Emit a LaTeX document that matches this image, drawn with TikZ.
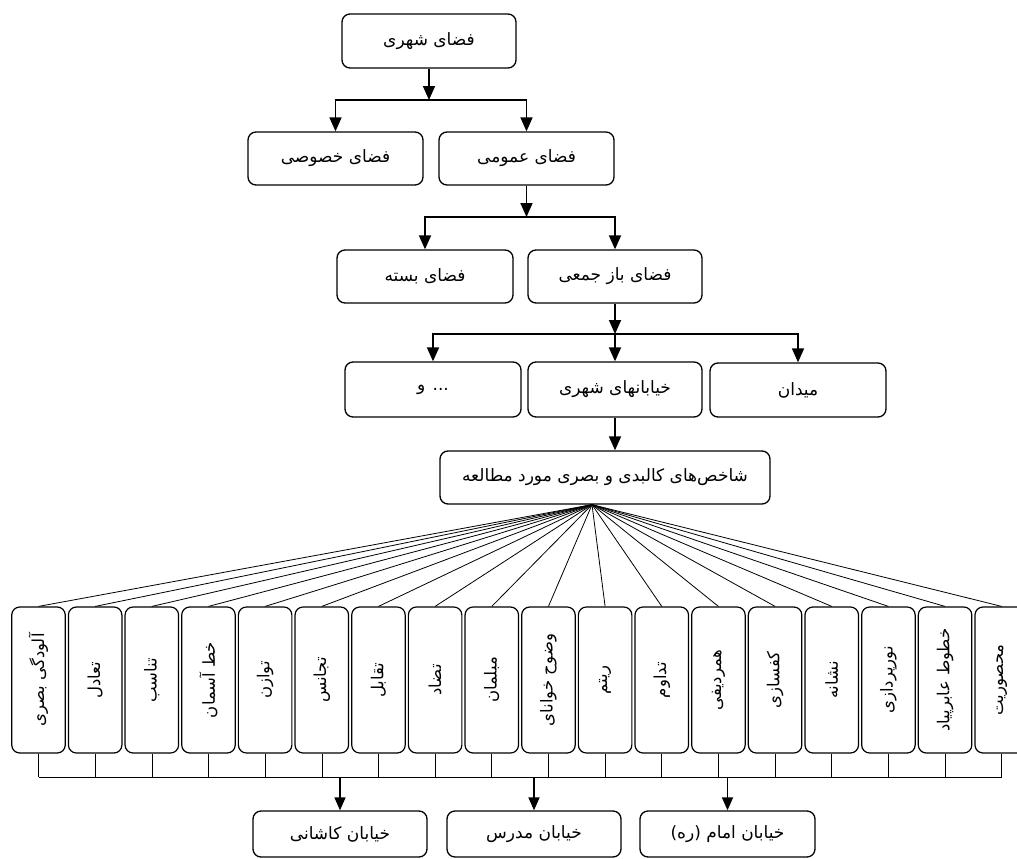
\documentclass[tikz,border=0pt]{standalone}
\usepackage{fontspec}
\usetikzlibrary{arrows.meta,calc}
\TeXXeTstate=1
\newfontfamily\fa[Script=Arabic]{DejaVu Sans}
\newcommand\fatxt[1]{{\fa\beginR #1\endR}}
\begin{document}
\begin{tikzpicture}[x=1pt,y=-1pt,
  box/.style={draw, line width=1.3pt, rounded corners=8pt, inner sep=0pt, font=\fontsize{17}{19}\selectfont},
  vbox/.style={draw, line width=1.2pt, rounded corners=8pt, inner sep=0pt, minimum width=53.5pt, minimum height=146pt, font=\fontsize{16.5}{18}\selectfont},
  arr/.style={line width=1.7pt, -{Triangle[width=12pt,length=14pt]}},
  arrb/.style={line width=1.5pt, -{Triangle[width=11pt,length=13pt]}},
  fanline/.style={line width=0.8pt},
  tickline/.style={line width=0.6pt},
  baseline/.style={line width=1pt},
]
\useasboundingbox (0,0) rectangle (1017,859);
% top levels
\node[box, minimum width=174pt, minimum height=54pt] (shahri) at (429,41) {\fatxt{فضای شهری}};
\node[box, minimum width=175pt, minimum height=53pt] (khosusi) at (335.5,158.5) {\fatxt{فضای خصوصی}};
\node[box, minimum width=175pt, minimum height=53pt] (omumi) at (526.5,158.5) {\fatxt{فضای عمومی}};
\node[box, minimum width=176pt, minimum height=53pt] (baste) at (425,276.5) {\fatxt{فضای بسته}};
\node[box, minimum width=174pt, minimum height=53pt] (baz) at (615,276.5) {\fatxt{فضای باز جمعی}};
\node[box, minimum width=176pt, minimum height=55pt] (va) at (433,389.5) {\fatxt{... و}};
\node[box, minimum width=174pt, minimum height=55pt] (streets) at (615,389.5) {\fatxt{خیابانهای شهری}};
\node[box, minimum width=176pt, minimum height=54pt] (meydan) at (798,390) {\fatxt{میدان}};
\node[box, minimum width=330pt, minimum height=53pt] (shakhes) at (605,477.5) {\fatxt{شاخص‌های کالبدی و بصری مورد مطالعه}};
% splits
\coordinate (j1) at (shahri.south |- 0,100);
\draw[arr] (shahri.south) -- (j1);
\draw[arr] (j1) -| (khosusi.north);
\draw[arr] (j1) -| (omumi.north);
\coordinate (j2) at (omumi.south |- 0,217);
\draw[arr] (omumi.south) -- (j2);
\draw[arr] (j2) -| (baste.north);
\draw[arr] (j2) -| (baz.north);
\coordinate (j3) at (baz.south |- 0,334);
\draw[arr] (baz.south) -- (j3);
\draw[arr] (j3) -| (va.north);
\draw[arr] (j3) -| (streets.north);
\draw[arr] (j3) -| (meydan.north);
\draw[arr] (streets.south) -- (streets.south |- shakhes.north);
% fan and vertical boxes
\coordinate (fan) at ($(shakhes.south)+(-13,0)$);
\foreach \t [count=\i] in {آلودگی بصری,تعادل,تناسب,خط آسمان,توازن,تجانس,تقابل,تضاد,مبلمان,وضوح خوانای,ریتم,تداوم,همردیفی,کفسازی,نشانه,نورپردازی,خطوط عابرپیاد,محصوریت}{
  \node[vbox] (v\i) at ({38.5+56.66*(\i-1)},680) {\rotatebox{90}{\fatxt{\t}}};
  \draw[fanline] (fan) -- (v\i.north);
  \draw[tickline] (v\i.south) -- (v\i.south |- 0,777);
}
\draw[baseline] (v1.south |- 0,777) -- (v18.south |- 0,777);
% bottom boxes
\node[box, minimum width=174pt, minimum height=46pt] (kashani) at (340,834) {\fatxt{خیابان کاشانی}};
\node[box, minimum width=174pt, minimum height=46pt] (modarres) at (534,834) {\fatxt{خیابان مدرس}};
\node[box, minimum width=175pt, minimum height=46pt] (emam) at (727.5,834) {\fatxt{خیابان امام (ره)}};
\draw[arrb] (kashani.north |- 0,777) -- (kashani.north);
\draw[arrb] (modarres.north |- 0,777) -- (modarres.north);
\draw[arrb] (emam.north |- 0,777) -- (emam.north);
\end{tikzpicture}
\end{document}
